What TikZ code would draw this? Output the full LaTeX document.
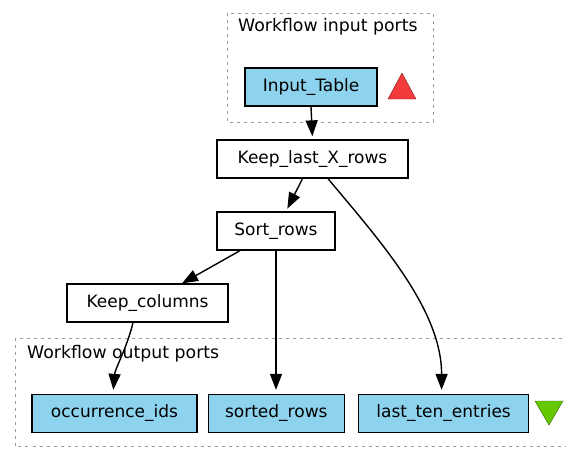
\documentclass[tikz,border=0pt]{standalone}
\usepackage{fontspec}
\setmainfont{DejaVu Sans}
\usepackage{tikz}
\usetikzlibrary{arrows.meta,positioning}
\definecolor{Port}{HTML}{8DD3EE}
\definecolor{Frame}{HTML}{9A9A9A}
\definecolor{InRed}{HTML}{F43A3A}
\definecolor{OutGreen}{HTML}{66C800}

\begin{document}
\begin{tikzpicture}[x=1pt,y=-1pt,
    proc/.style={draw,line width=1.3pt,fill=white,minimum height=38pt,inner xsep=2pt,
      font=\fontsize{17}{20}\selectfont},
    port/.style={proc,fill=Port},
    group/.style={draw=Frame,line width=1pt,dash pattern=on 3pt off 4pt},
    grouplabel/.style={anchor=base west,inner sep=0pt,
      font=\fontsize{17.3}{20}\selectfont},
    arr/.style={-{Triangle[length=16pt,width=12pt]},line width=1.4pt}
  ]
    \useasboundingbox (0,0) rectangle (566,448);

    % port groups
    \draw[group] (227,13) rectangle (433,122);
    \node[grouplabel] (inlbl) at (238,31) {Workflow input ports};
    \draw[group] (15,338) rectangle (600,446.5);
    \node[grouplabel] (outlbl) at (27,358) {Workflow output ports};

    % processors
    \node[port,minimum width=132pt] (intab) at (311,87) {Input\_Table};
    \node[proc,minimum width=191pt] (keeplast) at (312.5,159) {Keep\_last\_X\_rows};
    \node[proc,minimum width=118pt] (sortrows) at (276,231) {Sort\_rows};
    \node[proc,minimum width=161pt] (keepcols) at (147.5,303) {Keep\_columns};
    \node[port,minimum width=165pt] (occids) at (114.5,413.5) {occurrence\_ids};
    \node[port,minimum width=136pt,right=10pt of occids] (sorted) {sorted\_rows};
    \node[port,minimum width=170pt,right=13pt of sorted] (lastten) {last\_ten\_entries};

    % in / out markers
    \filldraw[fill=InRed,draw=InRed!50!black] (388,99) -- (402,73) -- (416,99) -- cycle;
    \filldraw[fill=OutGreen,draw=OutGreen!50!black] (535,401) -- (563,401) -- (549,425) -- cycle;

    % links
    \draw[arr,shorten >=3pt] (intab.south) -- (keeplast.north);
    \draw[arr,shorten >=3pt] ([xshift=-10pt]keeplast.south) -- ([xshift=10pt]sortrows.north);
    \draw[arr] ([xshift=-36pt]sortrows.south) -- ([xshift=34.5pt]keepcols.north);
    \draw[arr,shorten >=4pt] (sortrows.south) -- (sortrows.south |- sorted.north);
    \draw[arr,shorten >=4pt] ([xshift=-14.5pt]keepcols.south)
      .. controls +(-6,25) and +(2,-25) .. ([xshift=-1.5pt]occids.north);
    \draw[arr,shorten >=4pt] ([xshift=15.5pt]keeplast.south)
      .. controls +(50,60) and +(0,-85) .. ([xshift=-2pt]lastten.north);
  \end{tikzpicture}
\end{document}
